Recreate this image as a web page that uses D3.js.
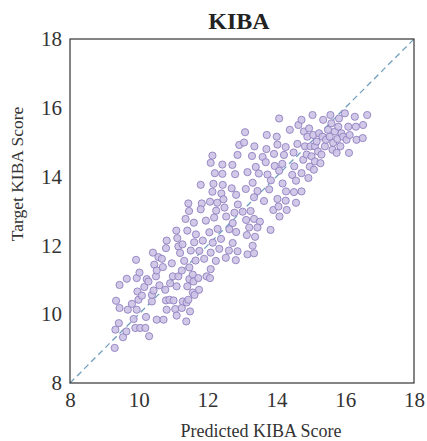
<!DOCTYPE html>
<html><head><meta charset="utf-8">
<script src="https://cdn.jsdelivr.net/npm/d3@7"></script>
<style>body{margin:0;background:#fff}</style>
</head><body>
<svg id="c" width="427" height="441"></svg>
<script>
const title = "KIBA";
const xLabel = "Predicted KIBA Score";
const yLabel = "Target KIBA Score";
const tickValues = [8, 10, 12, 14, 16, 18];
const predicted = [
9.30,9.32,9.42,9.54,9.64,9.34,9.44,9.44,9.65,9.68,9.80,9.85,9.90,10.04,10.19,10.30,10.21,9.92,9.94,9.96,
9.99,9.94,10.09,10.02,10.16,10.23,10.28,10.38,10.38,10.43,10.41,10.45,10.50,10.52,10.57,10.60,10.67,10.70,10.52,10.72,
10.77,10.79,10.81,10.79,10.81,10.89,10.91,10.96,10.99,11.01,11.06,11.10,11.10,11.15,11.09,11.12,11.15,11.20,11.25,
11.25,11.28,11.38,11.39,11.44,11.49,11.41,11.47,11.57,11.59,
11.57,11.62,11.73,11.75,11.97,12.07,
12.14,12.09,12.43,12.72,12.87,12.92,12.21,12.43,12.80,11.80,12.17,12.44,12.70,12.14,12.40,12.83,12.07,12.28,12.46,11.83,11.44,12.88,
13.06,13.36,13.71,14.03,14.27,14.61,13.29,13.60,13.93,14.22,14.50,13.40,13.69,13.95,14.17,14.52,13.16,13.49,13.74,14.08,14.46,
13.31,13.84,14.18,14.57,13.11,13.45,13.79,14.28,14.51,13.35,13.64,14.03,14.27,14.57,
11.46,11.80,12.25,12.49,12.78,11.36,11.60,11.95,12.19,12.54,12.73,11.41,11.66,12.05,12.29,12.63,12.83,
11.27,11.61,11.86,12.15,12.39,12.73,11.51,11.76,12.09,12.34,12.62,12.87,11.32,11.65,11.90,12.24,12.53,12.82,11.47,12.09,
13.25,13.02,13.12,13.35,13.52,13.21,13.45,13.14,13.38,13.31,13.16,13.35,13.91,14.06,14.30,14.09,13.83,
13.09,13.72,14.01,14.08,14.39,14.64,
14.73,14.73,14.73,14.78,14.80,14.83,14.88,14.90,14.93,14.95,14.97,14.99,15.02,15.05,15.07,15.09,15.12,15.12,15.17,15.21,
15.24,15.28,15.31,15.34,15.36,15.41,15.44,15.50,15.55,15.57,15.60,15.63,15.65,15.70,15.75,15.77,15.80,15.82,15.86,15.89,
15.94,15.99,16.04,16.09,16.11,16.13,16.28,16.31,16.33,16.51,16.52,16.64
];
const target = [
9.02,9.55,9.74,9.33,9.50,10.39,10.18,10.85,11.03,10.13,10.30,9.86,9.60,9.60,9.60,9.36,9.92,11.58,11.05,10.66,
10.42,10.13,10.54,11.21,10.79,11.02,10.95,10.37,10.56,10.69,11.79,11.44,11.10,11.27,11.66,10.84,11.61,11.37,9.84,9.84,
10.71,10.40,10.13,11.92,12.14,10.42,10.90,11.48,11.10,10.40,10.15,9.96,10.81,11.10,12.43,12.21,11.97,11.78,11.27,
10.18,10.37,9.79,10.34,10.42,10.08,10.81,11.02,11.15,10.95,
10.63,10.56,11.05,10.71,11.10,11.05,
14.61,14.40,14.35,14.34,14.63,14.92,14.10,14.08,14.07,13.76,13.79,13.76,13.66,13.56,13.51,13.47,13.27,13.24,13.34,13.22,13.22,13.19,
14.99,14.88,14.80,14.93,14.86,14.95,14.60,14.57,14.66,14.63,14.70,14.28,14.42,14.31,14.37,14.30,14.13,14.09,14.06,14.17,14.05,
13.82,13.89,13.80,13.88,13.64,13.58,13.63,13.57,13.55,13.40,13.29,13.35,13.30,13.24,
13.00,13.05,13.01,13.10,12.95,12.77,12.66,12.72,12.81,12.84,12.65,12.43,12.32,12.38,12.48,12.47,12.39,
12.03,12.09,12.14,12.08,12.19,12.07,11.85,11.84,11.79,11.90,11.85,11.83,11.55,11.56,11.61,11.55,11.64,11.57,11.36,11.31,
13.00,12.98,12.74,12.77,12.69,12.52,12.52,12.30,12.25,11.99,11.74,11.77,13.03,13.13,13.03,12.84,12.45,
15.29,15.21,15.16,15.69,15.36,15.50,
13.57,14.10,15.65,14.49,15.31,14.88,14.64,15.16,13.96,15.40,14.29,14.88,14.59,15.79,15.21,14.20,14.44,14.88,15.02,14.73,
15.26,14.39,14.64,15.16,15.65,14.88,15.07,15.36,15.16,15.79,15.55,14.78,14.98,15.31,14.69,15.09,15.45,15.69,14.88,15.26,
15.16,15.84,15.07,15.45,14.69,15.21,15.74,15.45,15.07,15.12,15.50,15.79
];

const svg = d3.select("#c");
const x = d3.scaleLinear().domain([8, 18]).range([70, 414]);
const y = d3.scaleLinear().domain([8, 18]).range([383, 39]);

svg.append("line")
  .attr("x1", x(8)).attr("y1", y(8)).attr("x2", x(18)).attr("y2", y(18))
  .attr("stroke", "#6f9fbf").attr("stroke-width", 1.3).attr("stroke-dasharray", "6,4");

const pts = predicted.map((p, i) => [p, target[i]]);
svg.append("g").selectAll("circle").data(pts).join("circle")
  .attr("cx", d => x(d[0])).attr("cy", d => y(d[1])).attr("r", 3.6)
  .attr("fill", "#cdc2e6").attr("fill-opacity", 0.9)
  .attr("stroke", "#9080c0").attr("stroke-width", 0.9);

svg.append("rect").attr("x", 70).attr("y", 39).attr("width", 344).attr("height", 344)
  .attr("fill", "none").attr("stroke", "#333").attr("stroke-width", 1.2);

const font = "'Liberation Serif', 'Times New Roman', serif";
const xAxis = d3.axisBottom(x).tickValues(tickValues).tickSize(0).tickPadding(9).tickFormat(d3.format("d"));
const gx = svg.append("g").attr("transform", `translate(0,${383})`).call(xAxis);
gx.select(".domain").remove();
gx.selectAll("text").attr("font-family", font).attr("font-size", 21).attr("fill", "#333");

const yAxis = d3.axisLeft(y).tickValues(tickValues).tickSize(0).tickPadding(8).tickFormat(d3.format("d"));
const gy = svg.append("g").attr("transform", `translate(${70},0)`).call(yAxis);
gy.select(".domain").remove();
gy.selectAll("text").attr("font-family", font).attr("font-size", 21).attr("fill", "#333");

svg.append("text").attr("x", 239).attr("y", 29).attr("text-anchor", "middle")
  .attr("font-family", font).attr("font-weight", "bold").attr("font-size", 24).attr("fill", "#222").text(title);
svg.append("text").attr("x", 261).attr("y", 437).attr("text-anchor", "middle")
  .attr("font-family", font).attr("font-size", 18).attr("fill", "#333").text(xLabel);
svg.append("text").attr("transform", `translate(23,${174}) rotate(-90)`).attr("text-anchor", "middle")
  .attr("font-family", font).attr("font-size", 17.5).attr("fill", "#333").text(yLabel);
</script>
</body></html>
